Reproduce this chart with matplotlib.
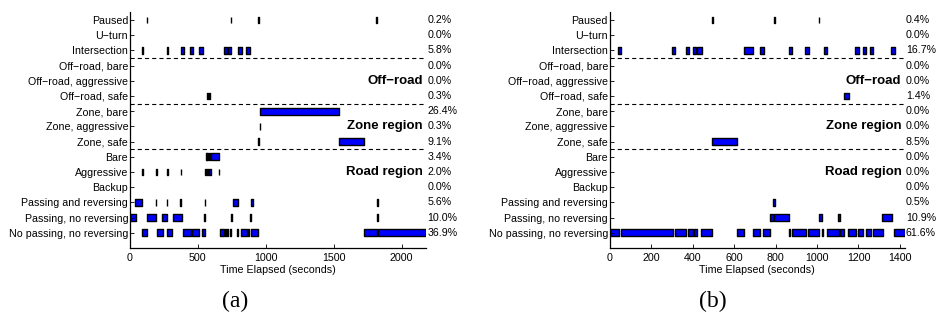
import matplotlib
matplotlib.use('Agg')
import matplotlib.pyplot as plt
from matplotlib.transforms import blended_transform_factory, offset_copy

plt.rcParams['font.family'] = ['Liberation Sans', 'DejaVu Sans']
plt.rcParams['lines.scale_dashes'] = False

# ---------------- data ----------------
categories = ['Paused', 'U\u2212turn', 'Intersection',
              'Off\u2212road, bare', 'Off\u2212road, aggressive', 'Off\u2212road, safe',
              'Zone, bare', 'Zone, aggressive', 'Zone, safe',
              'Bare', 'Aggressive', 'Backup',
              'Passing and reversing', 'Passing, no reversing', 'No passing, no reversing']
group_labels = ['Off\u2212road', 'Zone region', 'Road region']
group_first_row = [3, 6, 9]   # index of first category of each group

# (a) intervals (start, end) in seconds per category
a_intervals = [
    [(122, 126), (742, 746), (943, 947), (1814, 1818)],
    [],
    [(91, 95), (275, 279), (375, 400), (442, 461), (506, 535), (695, 717), (721, 744), (798, 822), (857, 881)],
    [],
    [],
    [(566, 574), (579, 590)],
    [(959, 1536)],
    [(955, 959)],
    [(946, 950), (1536, 1725)],
    [(558, 566), (570, 578), (583, 592), (594, 657)],
    [(89, 93), (194, 198), (273, 277), (373, 377), (553, 562), (566, 575), (580, 596), (655, 659)],
    [],
    [(37, 91), (189, 193), (270, 274), (368, 372), (550, 554), (756, 793), (893, 905), (1821, 1825)],
    [(0, 42), (123, 189), (233, 270), (314, 380), (545, 549), (747, 751), (887, 891), (1819, 1823)],
    [(91, 127), (196, 240), (275, 311), (393, 447), (456, 508), (528, 552), (663, 694), (697, 710),
     (713, 724), (737, 747), (786, 797), (818, 861), (867, 880), (889, 945), (1723, 1818), (1825, 2180)],
]
a_percent = [0.2, 0.0, 5.8, 0.0, 0.0, 0.3, 26.4, 0.3, 9.1, 3.4, 2.0, 0.0, 5.6, 10.0, 36.9]
a_xmax = 2180
a_xticks = [0, 500, 1000, 1500, 2000]

# (b)
b_intervals = [
    [(493, 496), (794, 797), (1008, 1011)],
    [],
    [(40, 55), (302, 317), (367, 384), (403, 416), (422, 443), (650, 691), (724, 742), (865, 881),
     (942, 959), (1032, 1048), (1185, 1201), (1222, 1238), (1254, 1272), (1358, 1374)],
    [],
    [],
    [(1130, 1152)],
    [],
    [],
    [(495, 615)],
    [],
    [],
    [],
    [(788, 798)],
    [(773, 789), (792, 865), (1010, 1026), (1101, 1113), (1313, 1362)],
    [(0, 45), (53, 305), (316, 369), (380, 402), (409, 423), (441, 492), (612, 648), (690, 727),
     (740, 775), (864, 868), (878, 945), (957, 1010), (1025, 1029), (1049, 1104), (1111, 1131),
     (1151, 1188), (1199, 1223), (1235, 1258), (1271, 1318), (1371, 1422)],
]
b_percent = [0.4, 0.0, 16.7, 0.0, 0.0, 1.4, 0.0, 0.0, 8.5, 0.0, 0.0, 0.0, 0.5, 10.9, 61.6]
b_xmax = 1422
b_xticks = [0, 200, 400, 600, 800, 1000, 1200, 1400]

captions = ['(a)', '(b)']

# ---------------- figure ----------------
W, H = 938, 321
fig = plt.figure(figsize=(W / 100, H / 100), dpi=100)

FS = 7.7
n = len(categories)

def draw(rect, intervals, percents, xmax, xticks):
    ax = fig.add_axes(rect)
    for i, iv in enumerate(intervals):
        if iv:
            ax.broken_barh([(s, e - s) for s, e in iv], (i + 1 - 0.22, 0.44),
                           facecolors='#0000ff', edgecolors='black', linewidth=1.0)
    ax.set_xlim(0, xmax)
    ax.set_ylim(n + 1, 0.5)
    ax.set_yticks(range(1, n + 1))
    ax.set_yticklabels(categories, fontsize=FS)
    ax.set_xticks(xticks)
    ax.set_xticklabels([str(t) for t in xticks], fontsize=FS)
    ax.tick_params(axis='both', direction='in', length=2.6, width=0.6)
    ax.tick_params(axis='y', pad=1.3)
    ax.tick_params(axis='x', pad=3.5)
    for s in ('top', 'right'):
        ax.spines[s].set_visible(False)
    for s in ('left', 'bottom'):
        ax.spines[s].set_linewidth(0.9)
    ax.set_xlabel('Time Elapsed (seconds)', fontsize=FS, labelpad=1.5)

    tr = blended_transform_factory(ax.transAxes, ax.transData)
    tr_pct = offset_copy(tr, fig=fig, x=1.0, y=0, units='points')
    for i, p in enumerate(percents):
        ax.text(1.0, i + 1, f'{p:.1f}%', transform=tr_pct, ha='left', va='center', fontsize=FS)
    for g, lab in zip(group_first_row, group_labels):
        ax.plot([0, xmax], [g + 0.5, g + 0.5], color='black', lw=0.8,
                ls=(0, (3.0, 2.2)), clip_on=False)
        tr_g = offset_copy(tr, fig=fig, x=-2.2, y=0, units='points')
        ax.text(1.0, g + 2.0, lab, transform=tr_g, ha='right', va='center',
                fontsize=9.5, fontweight='bold')
    return ax

ax_top = 12.4
ax_bot = 247.9
ax_a = draw([130 / W, (H - ax_bot) / H, 296 / W, (ax_bot - ax_top) / H],
            a_intervals, a_percent, a_xmax, a_xticks)
ax_b = draw([609.7 / W, (H - ax_bot) / H, 294.8 / W, (ax_bot - ax_top) / H],
            b_intervals, b_percent, b_xmax, b_xticks)

for cx, cap in zip([235.3, 712.7], captions):
    fig.text(cx / W, (H - 301.5) / H, cap, ha='center', va='center',
             fontsize=17, family=['Liberation Serif', 'DejaVu Serif'])

fig.savefig('out.png', dpi=100)
